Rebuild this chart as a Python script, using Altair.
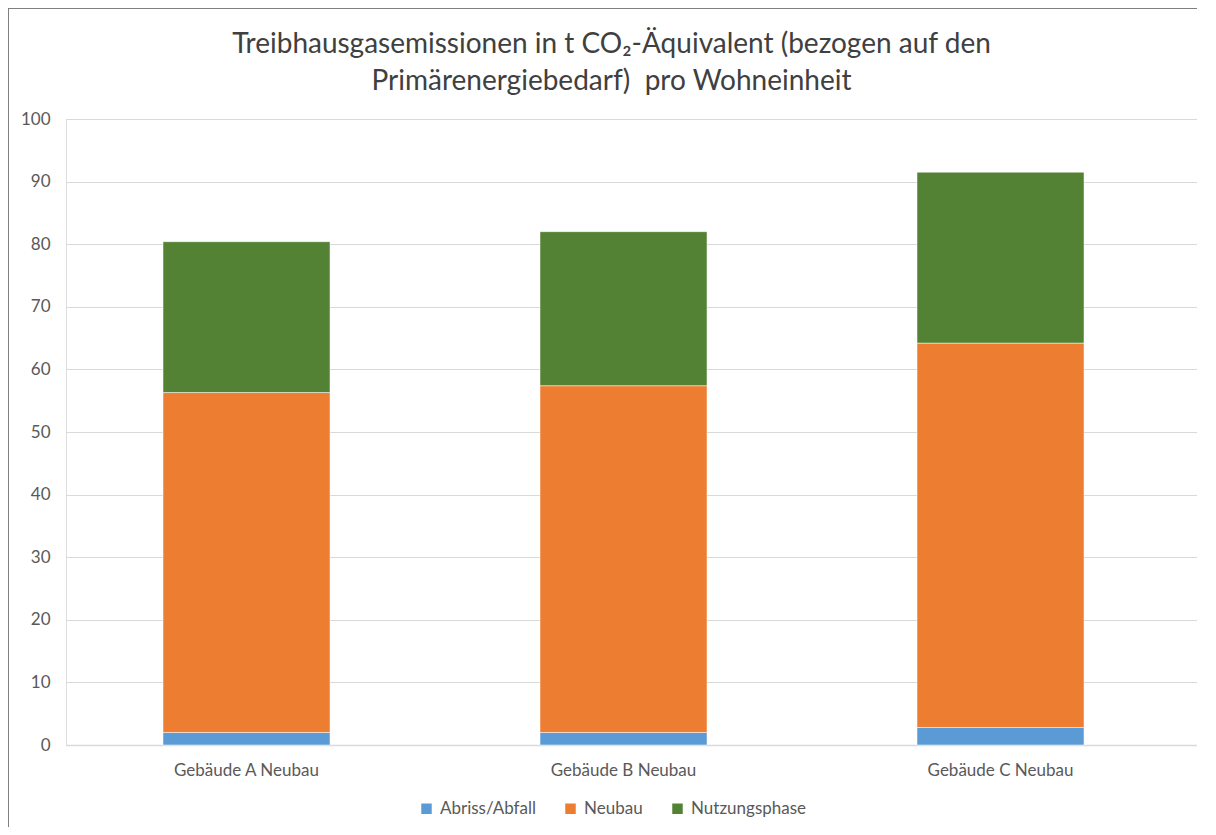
import altair as alt
import pandas as pd

buildings = ["Gebäude A Neubau", "Gebäude B Neubau", "Gebäude C Neubau"]
series = ["Abriss/Abfall", "Neubau", "Nutzungsphase"]
abriss = [2.0, 2.0, 2.8]
neubau = [54.3, 55.4, 61.4]
nutzung = [24.1, 24.6, 27.3]
colors = ["#5B9BD5", "#ED7D31", "#548235"]
y_ticks = [0, 10, 20, 30, 40, 50, 60, 70, 80, 90, 100]
title_lines = ["Treibhausgasemissionen in t CO₂-Äquivalent (bezogen auf den",
               "Primärenergiebedarf)\u00a0 pro Wohneinheit"]

rows = []
for i, b in enumerate(buildings):
    for k, (s, vals) in enumerate(zip(series, [abriss, neubau, nutzung])):
        rows.append({"Gebäude": b, "Phase": s, "Wert": vals[i], "ord": k})
df = pd.DataFrame(rows)

FONT = "Lato"
TXT = "#595959"

bars = alt.Chart(df).mark_bar(stroke="white", strokeWidth=0.5).encode(
    x=alt.X("Gebäude:N", sort=buildings, title=None,
            scale=alt.Scale(paddingInner=0.557, paddingOuter=0.2785, align=0.462),
            axis=alt.Axis(labelAngle=0, ticks=False, tickSize=0, labelPadding=17,
                          labelFont=FONT, labelFontSize=17, labelColor=TXT,
                          domainColor="#D9D9D9", domainWidth=1.5, grid=False)),
    y=alt.Y("Wert:Q", stack="zero", title=None,
            scale=alt.Scale(domain=[0, 100], nice=False),
            axis=alt.Axis(values=y_ticks, ticks=False, tickSize=0, labelPadding=16,
                          labelFont=FONT, labelFontSize=17, labelColor=TXT,
                          domain=False, gridColor="#D9D9D9", gridWidth=1)),
    color=alt.Color("Phase:N", sort=series,
                    scale=alt.Scale(domain=series, range=colors),
                    legend=alt.Legend(title=None, orient="none", direction="horizontal",
                                      legendX=352, legendY=681,
                                      symbolType="square", symbolSize=110,
                                      symbolStrokeWidth=0,
                                      labelFont=FONT, labelFontSize=17, labelColor=TXT,
                                      labelOffset=5, columnPadding=26)),
    order=alt.Order("ord:Q", sort="ascending"),
)

frame_left = alt.Chart(df).mark_rule(color="#7F7F7F", strokeWidth=1).encode(
    x=alt.value(-57.5), y=alt.value(-110.5), y2=alt.value(760))
frame_top = alt.Chart(df).mark_rule(color="#7F7F7F", strokeWidth=1).encode(
    x=alt.value(-57.5), x2=alt.value(1150), y=alt.value(-110.5))

chart = alt.layer(bars, frame_left, frame_top).properties(
    width=1131, height=626,
    title=alt.Title(text=title_lines, font=FONT, fontSize=28, fontWeight="normal",
                    color="#404040", anchor="middle", frame="group", lineHeight=37,
                    offset=0, dy=88, dx=-20),
    autosize=alt.AutoSizeParams(type="none"),
    padding={"left": 58, "top": 111, "right": 0, "bottom": 82},
).configure_view(stroke=None).configure(background="white")

chart.save("out.html", embed_options={"renderer": "svg", "actions": False})
